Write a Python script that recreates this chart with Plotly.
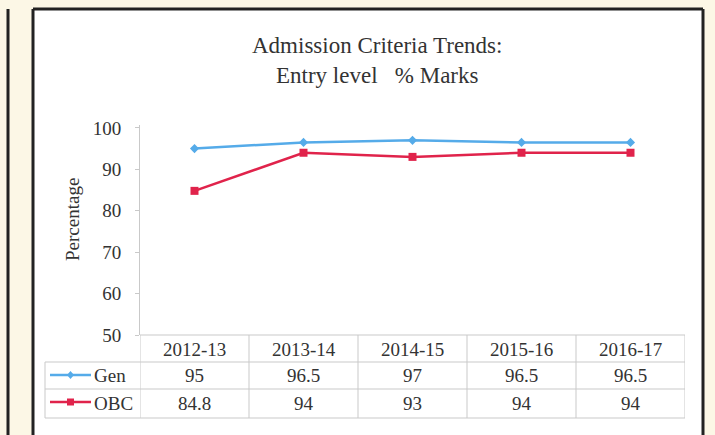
import plotly.graph_objects as go

categories = ["2012-13", "2013-14", "2014-15", "2015-16", "2016-17"]
gen_values = [95, 96.5, 97, 96.5, 96.5]
obc_values = [84.8, 94, 93, 94, 94]
gen_labels = ["95", "96.5", "97", "96.5", "96.5"]
obc_labels = ["84.8", "94", "93", "94", "94"]
y_ticks = [50, 60, 70, 80, 90, 100]

W, H = 715, 435
GEN_C = "#55abe9"
OBC_C = "#e0234b"
TXT = "#333333"
GRID = "#c9c9c9"
FONT = "Liberation Serif"
FS = 19

def py(p):
    return 1 - p / H

def px(p):
    return p / W

fig = go.Figure()
fig.add_trace(go.Scatter(x=categories, y=gen_values, mode="lines+markers", name="Gen",
                         line=dict(color=GEN_C, width=2.5),
                         marker=dict(symbol="diamond", size=7, color=GEN_C)))
fig.add_trace(go.Scatter(x=categories, y=obc_values, mode="lines+markers", name="OBC",
                         line=dict(color=OBC_C, width=2.5),
                         marker=dict(symbol="square", size=8, color=OBC_C)))

shapes = []
# panel
shapes.append(dict(type="rect", xref="paper", yref="paper", x0=px(33), x1=px(703), y0=0, y1=py(9),
                   fillcolor="white", line=dict(width=0), layer="below"))
BORDER = dict(color="#222222", width=3)
shapes.append(dict(type="line", xref="paper", yref="paper", x0=px(33), x1=px(703), y0=py(9), y1=py(9), line=BORDER))
shapes.append(dict(type="line", xref="paper", yref="paper", x0=px(33), x1=px(33), y0=0, y1=py(9), line=BORDER))
shapes.append(dict(type="line", xref="paper", yref="paper", x0=px(703), x1=px(703), y0=0, y1=py(9), line=BORDER))
shapes.append(dict(type="line", xref="paper", yref="paper", x0=px(8), x1=px(8), y0=0, y1=py(9), line=BORDER))

# table lines
row_tops = [335, 362, 389, 418]
shapes.append(dict(type="line", xref="x", yref="paper", x0=-0.5, x1=len(categories) - 0.5,
                   y0=py(335), y1=py(335), line=dict(color=GRID, width=1)))
for yy in row_tops[1:]:
    shapes.append(dict(type="line", xref="paper", yref="paper", x0=px(45), x1=px(685),
                       y0=py(yy), y1=py(yy), line=dict(color=GRID, width=1)))
for i in range(len(categories) + 1):
    shapes.append(dict(type="line", xref="x", yref="paper", x0=i - 0.5, x1=i - 0.5,
                       y0=py(418), y1=py(335), line=dict(color=GRID, width=1)))
shapes.append(dict(type="line", xref="paper", yref="paper", x0=px(45), x1=px(45),
                   y0=py(418), y1=py(362), line=dict(color=GRID, width=1)))

# legend keys in table
for yc, col, sym in [(375, GEN_C, "diamond"), (402, OBC_C, "square")]:
    shapes.append(dict(type="line", xref="paper", yref="paper", x0=px(50), x1=px(91),
                       y0=py(yc), y1=py(yc), line=dict(color=col, width=2.5)))
    if sym == "square":
        shapes.append(dict(type="rect", xref="paper", yref="paper", x0=px(67), x1=px(74),
                           y0=py(yc + 3.5), y1=py(yc - 3.5), fillcolor=col, line=dict(width=0)))
    else:
        shapes.append(dict(type="path", xref="paper", yref="paper",
                           path=f"M {px(70.5)},{py(yc-4)} L {px(74)},{py(yc)} L {px(70.5)},{py(yc+4)} L {px(67)},{py(yc)} Z",
                           fillcolor=col, line=dict(width=0)))

def ann(text, x, y, xref="paper", xanchor="center", size=FS, angle=0):
    return dict(text=text, xref=xref, yref="paper", x=x, y=y, showarrow=False, textangle=angle,
                xanchor=xanchor, yanchor="middle", font=dict(family=FONT, size=size, color=TXT))

annotations = []
annotations.append(ann("Admission Criteria Trends:<br>Entry level   % Marks", px(377), py(61), size=23))
annotations.append(ann("Percentage", px(72), py(220), size=19, angle=-90))
for i, c in enumerate(categories):
    annotations.append(ann(c, c, py(349), xref="x"))
    annotations.append(ann(gen_labels[i], c, py(375), xref="x"))
    annotations.append(ann(obc_labels[i], c, py(403), xref="x"))
annotations.append(ann("Gen", px(92), py(375), xanchor="left"))
annotations.append(ann("OBC", px(92), py(403), xanchor="left"))

fig.update_layout(
    width=W, height=H, margin=dict(l=0, r=0, t=0, b=0, autoexpand=False),
    paper_bgcolor="#fcf7e6", plot_bgcolor="rgba(0,0,0,0)",
    showlegend=False, shapes=shapes, annotations=annotations,
    xaxis=dict(domain=[px(140), px(685)], range=[-0.5, len(categories) - 0.5], showticklabels=False,
               showgrid=False, zeroline=False, showline=False, ticks="", automargin=False),
    yaxis=dict(domain=[py(335), py(125)], range=[50, 100.7], tickvals=y_ticks, showgrid=False,
               zeroline=False, showline=True, linecolor=GRID, linewidth=1, ticks="outside", automargin=False,
               ticklen=4, tickcolor=GRID, tickfont=dict(family=FONT, size=FS, color=TXT), ticklabelstandoff=10),
)
fig.write_html("out.html", config={"displayModeBar": False},
               post_script="document.body.style.margin='0';document.body.style.overflow='hidden';")
